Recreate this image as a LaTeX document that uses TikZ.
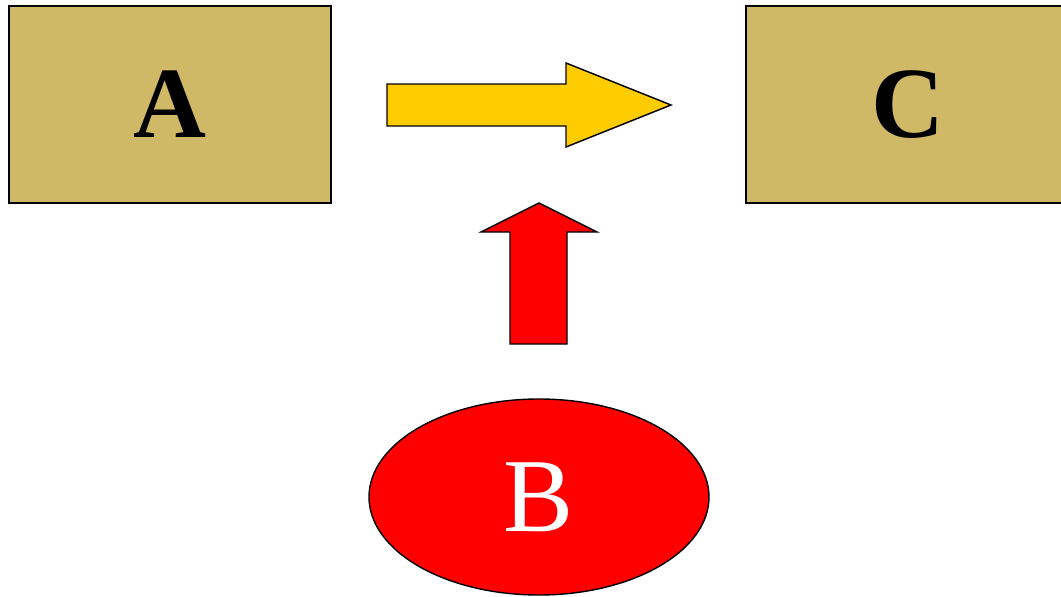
\documentclass[tikz,border=0pt]{standalone}
\usepackage{fontspec}
\setmainfont{Liberation Serif}
\usetikzlibrary{shapes.geometric}
\definecolor{khaki}{HTML}{CFB966}
\definecolor{gold}{HTML}{FFCC00}
\definecolor{brightred}{HTML}{FF0000}
\tikzset{
  box/.style={draw=black, line width=1.6pt, fill=khaki, rectangle,
    inner sep=0pt, font=\fontsize{101}{101}\selectfont\bfseries},
  bigarrow/.style={draw=black, line width=1.4pt, line join=miter},
}
\begin{document}
\begin{tikzpicture}[x=1pt, y=-1pt]
  \useasboundingbox (0,0) rectangle (1061,597);
  \begin{scope}
    \clip (0,0) rectangle (1061,597);
    % boxes
    \node[box, minimum width=322pt, minimum height=197pt] (A) at (170,104.5) {A};
    \node[box, minimum width=324pt, minimum height=197pt] (C) at (908,104.5) {C};
    % ellipse
    \node[draw=black, line width=1.4pt, fill=brightred, ellipse,
          minimum width=340pt, minimum height=196pt, inner sep=0pt,
          text=white, font=\fontsize{105}{105}\selectfont] (B) at (539,497) {B};
    % yellow arrow pointing right
    \draw[bigarrow, fill=gold]
      (387,84) -- (566,84) -- (566,63) -- (671,105) -- (566,147) -- (566,126)
      -- (387,126) -- cycle;
    % red arrow pointing up
    \draw[bigarrow, fill=brightred]
      (510,344) -- (510,232) -- (481,232) -- (539,203) -- (597,232) -- (567,232)
      -- (567,344) -- cycle;
  \end{scope}
\end{tikzpicture}
\end{document}
